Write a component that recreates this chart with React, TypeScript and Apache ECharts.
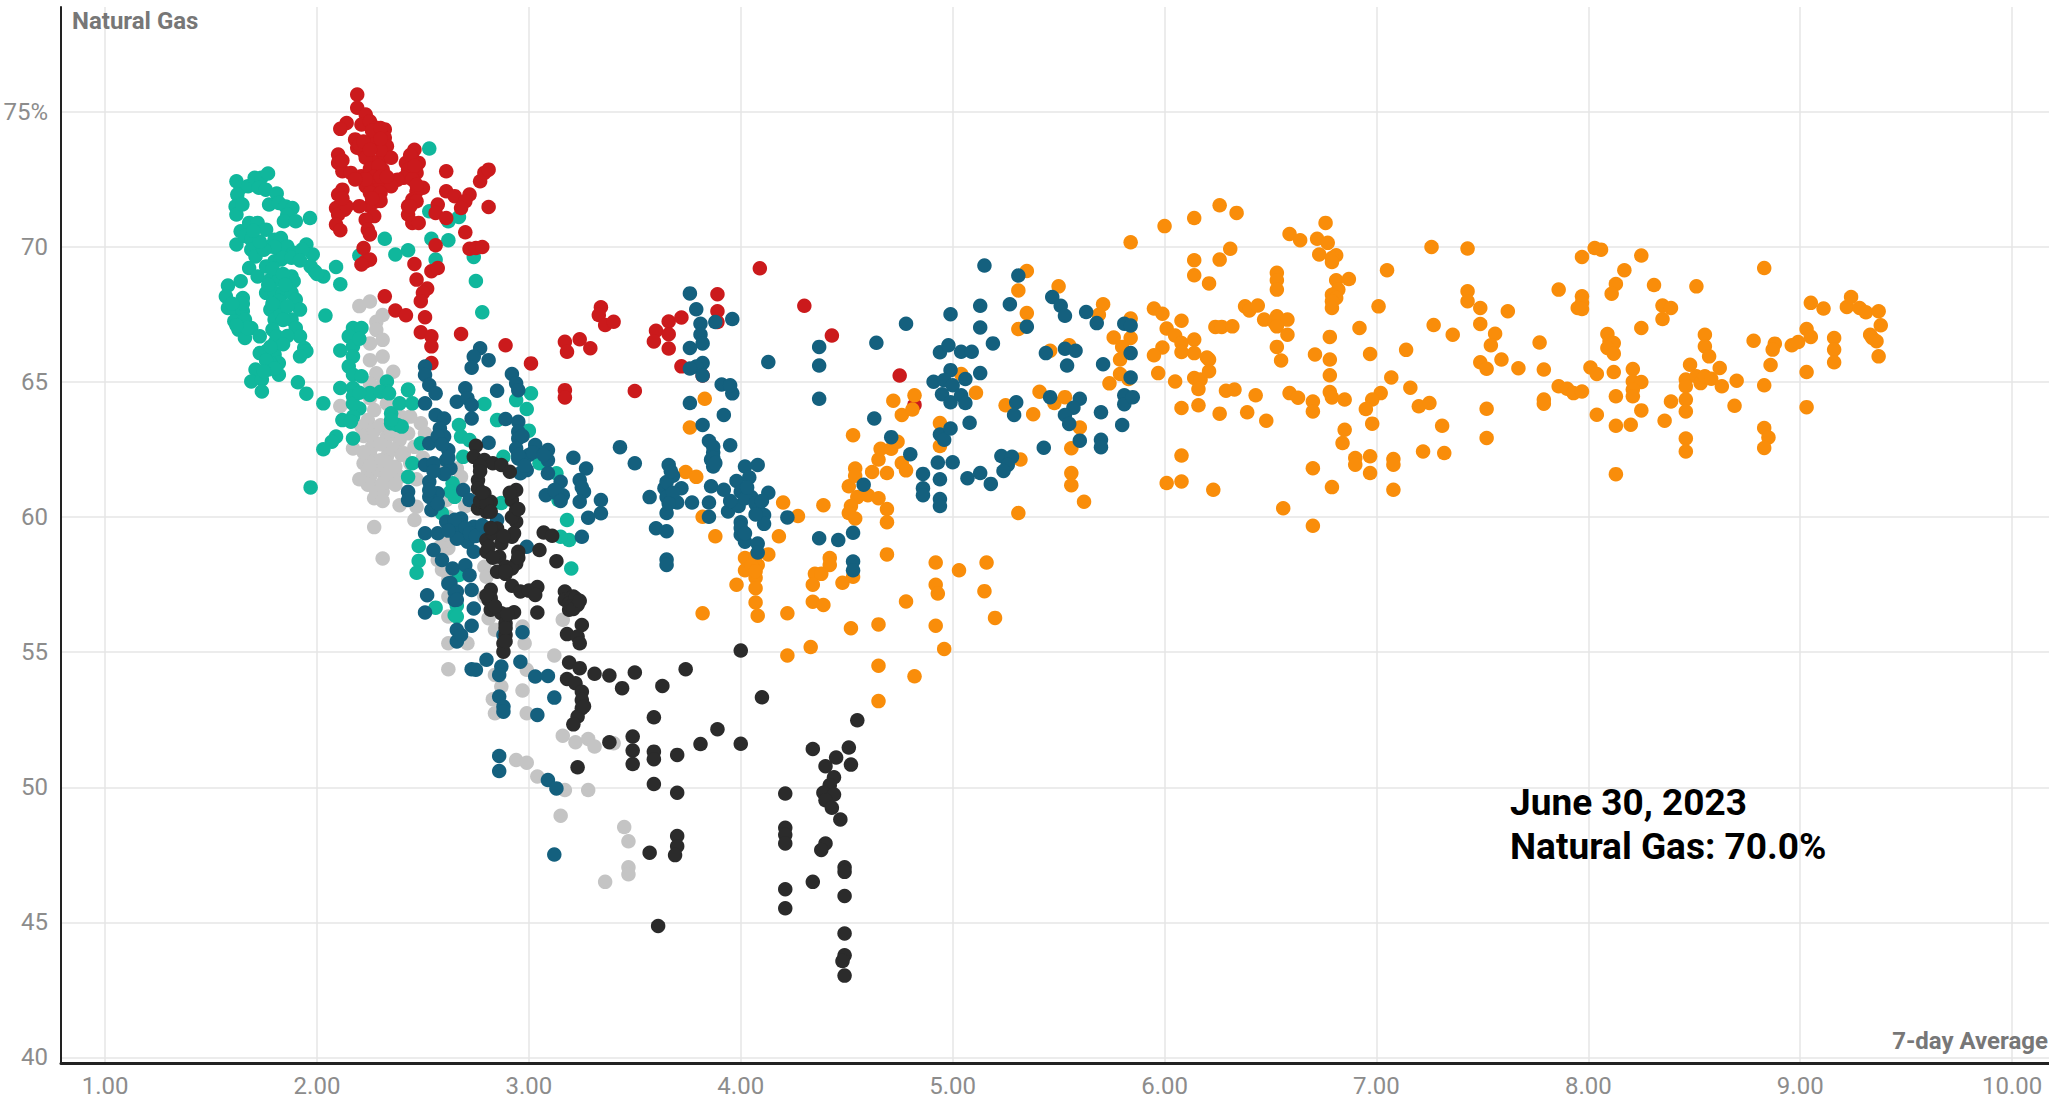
import React, { useEffect, useRef } from "react";
import * as echarts from "echarts";

const xTicks = [1, 2, 3, 4, 5, 6, 7, 8, 9, 10];
const yTicks = [40, 45, 50, 55, 60, 65, 70, 75];
const yAxisTitle = "Natural Gas";
const xAxisTitle = "7-day Average";
const noteLines = ["June 30, 2023", "Natural Gas: 70.0%"];

const greyPoints = [
[2.20,67.81],[2.25,67.98],[2.31,67.48],[2.28,67.23],[2.28,66.93],[2.31,66.56],[2.25,66.43],[2.25,65.81],[2.31,65.94],[2.36,65.38],[2.28,65.32],[2.30,64.83],[2.11,64.11],[2.25,64.95],[2.27,63.96],[2.24,63.59],[2.21,63.35],[2.17,62.54],[2.25,63.10],[2.28,62.73],[2.25,62.36],[2.28,61.99],[2.25,61.49],[2.29,61.74],[2.33,62.23],[2.35,61.86],[2.39,61.49],[2.39,62.85],[2.33,62.98],[2.43,63.10],[2.46,62.60],[2.41,62.36],[2.37,61.86],[2.28,60.88],[2.31,60.94],[2.39,60.44],[2.47,60.38],[2.46,59.89],[2.27,59.63],[2.31,58.47],[2.49,63.47],[2.51,63.10],[2.44,63.72],[2.61,60.63],[2.68,61.49],[2.57,60.38],[2.61,59.02],[2.57,58.41],[2.64,57.05],[2.79,58.16],[2.80,57.79],[2.33,62.60],[2.30,62.10],[2.22,61.99],[2.24,61.74],[2.32,61.49],[2.35,61.31],[2.27,61.12],[2.31,61.25],[2.62,58.85],[2.59,58.05],[2.62,57.06],[2.62,56.32],[2.62,55.33],[2.71,55.33],[2.62,54.37],[2.84,55.83],[2.81,56.26],[2.97,55.95],[2.98,55.33],[3.12,54.88],[2.99,54.35],[3.16,56.20],[2.84,54.16],[2.87,53.73],[2.97,53.58],[2.83,53.26],[2.84,52.74],[2.99,52.74],[3.16,51.91],[3.22,51.67],[3.28,51.79],[3.31,51.51],[2.94,51.01],[2.99,50.91],[3.04,50.40],[3.17,49.90],[3.28,49.90],[3.40,51.63],[2.79,57.06],[3.15,48.95],[3.45,48.53],[3.47,48.00],[3.47,47.04],[3.47,46.78],[3.36,46.50],
[2.22,63.0],[2.27,63.2],[2.30,63.4],[2.35,63.2],[2.40,63.7],[2.26,62.6],[2.22,62.4],[2.36,62.5],[2.30,62.7],[2.40,62.3],[2.44,62.0],[2.33,61.6],[2.37,61.2],[2.24,61.2],[2.27,60.7],[2.31,60.6],[2.33,64.2],[2.36,63.9],[2.25,64.4],[2.25,61.9],[2.20,61.4],[2.50,62.2],[2.47,61.4],[2.60,62.0],[2.66,61.8],[2.70,60.4],[2.62,60.0],[2.66,59.5],[2.62,57.7],[2.58,58.9],
];

const tealPoints = [
[1.62,72.43],[1.64,72.19],[1.675,72.25],[1.706,72.56],[1.737,72.56],[1.769,72.72],[1.726,72.19],[1.758,72.12],[1.81,71.98],[1.624,71.94],[1.64,71.6],[1.616,71.5],[1.62,71.2],[1.648,71.57],[1.774,71.57],[1.82,71.63],[1.852,71.5],[1.884,71.44],[1.86,71.2],[1.844,70.95],[1.90,70.95],[1.967,71.07],
[1.64,70.58],[1.68,70.89],[1.72,70.89],[1.76,70.64],[1.62,70.09],[1.66,70.40],[1.69,70.27],[1.69,69.90],[1.71,69.65],[1.80,70.27],[1.83,70.33],[1.78,70.02],[1.82,69.90],[1.86,70.02],[1.89,69.78],[1.95,70.09],[1.98,69.72],[1.97,69.28],[1.99,69.10],[2.03,68.91],[2.09,69.26],[2.11,68.62],[1.68,69.22],[1.64,68.73],[1.72,68.91],[1.76,69.28],[1.80,69.47],[1.83,69.53],[1.88,68.91],[1.89,68.73],[1.78,68.79],[1.82,68.79],[1.76,68.30],[1.80,68.30],[1.84,68.30],[1.88,68.30],[1.90,68.05],[1.92,67.68],[1.78,67.68],[1.80,67.31],[1.79,66.94],[1.83,67.56],[1.88,67.31],[1.90,67.00],[1.92,66.69],[1.58,68.57],[1.57,68.17],[1.58,67.74],[1.65,68.11],[1.61,67.68],[1.65,67.62],[1.61,67.25],[1.66,67.31],[1.63,66.94],[1.69,67.00],[1.73,66.69],[1.66,66.63],[1.80,66.44],[1.81,66.69],[1.94,66.26],[1.95,66.14],[1.92,65.95],[1.73,66.07],[1.76,66.14],[1.80,66.01],[1.82,65.70],[1.82,65.27],[1.71,65.46],[1.77,65.46],[1.69,65.02],[1.74,65.09],[1.74,64.65],[1.78,65.70],[2.04,67.46],[1.91,64.99],[1.95,64.57],
[2.53,73.64],[2.53,71.32],[2.62,70.95],[2.67,71.11],[2.54,70.30],[2.62,70.25],[2.32,70.30],[2.37,69.72],[2.43,69.88],[2.20,69.68],[2.56,69.53],[2.74,69.63],[2.75,68.74],[2.78,67.58],[2.17,67.00],[2.21,67.00],[2.15,66.69],[2.11,66.17],[2.17,66.32],[2.17,65.95],[2.15,65.58],[2.17,65.27],[2.21,65.21],[2.11,64.78],[2.17,64.78],[2.17,64.47],[2.25,64.59],[2.33,65.02],[2.33,64.65],[2.43,64.72],
[2.25,64.52],[2.30,64.64],[2.34,64.58],[2.20,64.02],[2.17,63.72],[2.12,63.59],[2.16,63.53],[2.09,62.98],[2.07,62.79],[2.17,62.91],[2.03,62.51],[2.03,64.21],[2.43,64.70],[2.35,63.84],[2.39,64.21],[2.45,64.21],[2.35,63.47],[2.38,63.41],[2.40,63.35],[2.67,63.41],[2.68,62.98],[2.72,62.85],[2.49,62.73],[2.69,62.23],[2.64,61.25],[2.63,60.94],[2.65,60.75],[2.45,61.99],[2.43,61.49],[3.01,64.58],[2.94,64.33],[2.99,64.00],[3.00,63.20],[2.79,64.19],[2.85,63.59],[3.05,61.99],[3.13,61.62],[3.14,60.63],[3.18,59.89],[3.19,59.15],[3.15,59.27],[3.20,58.10],[2.48,58.93],[2.48,58.38],[2.47,57.94],[2.56,56.65],[2.65,56.37],[2.59,60.14],[2.88,62.23],[2.66,56.72],[2.66,56.32],[2.67,57.86],[2.87,60.52],[1.97,61.1],
[1.80,70.0],[1.84,69.6],[1.79,69.2],[1.84,69.0],[1.77,68.6],[1.85,68.6],[1.82,68.0],[1.86,67.8],[1.79,67.9],[1.84,67.3],[1.86,66.7],[1.84,66.4],[1.78,66.3],[1.76,65.8],[1.80,65.5],[1.75,65.4],[1.67,67.0],[1.65,67.9],[1.88,69.6],[1.75,69.9],[1.73,70.2],[1.70,70.6],[1.93,69.9],[1.92,69.5],[2.0,69.0],[1.60,67.9],[1.62,67.1],[2.35,63.6],[2.20,66.6],[2.17,64.2],[2.20,64.6],
];

const redPoints = [
[2.19,75.64],[2.19,75.15],[2.23,74.90],[2.14,74.59],[2.11,74.37],[2.21,74.53],[2.25,74.65],[2.28,74.41],[2.32,74.35],[2.27,74.16],[2.32,74.04],[2.18,73.98],[2.19,73.67],[2.22,73.54],[2.33,73.73],[2.10,73.42],[2.10,73.11],[2.31,73.30],[2.35,73.30],[2.26,73.17],[2.46,73.60],[2.45,73.30],[2.48,73.11],[2.42,73.11],[2.43,72.86],[2.47,72.74],[2.41,72.56],[2.38,72.49],[2.12,72.80],[2.16,72.74],[2.21,72.62],[2.24,72.62],[2.28,72.74],[2.31,72.86],[2.26,72.37],[2.30,72.37],[2.35,72.25],[2.23,72.25],[2.25,72.00],[2.30,72.00],[2.28,71.69],[2.25,71.51],[2.20,71.51],[2.27,71.14],[2.23,71.01],[2.24,70.64],[2.25,70.46],[2.12,72.12],[2.10,71.94],[2.09,71.44],[2.13,71.38],[2.10,71.20],[2.09,70.83],[2.11,70.62],[2.50,72.19],[2.47,72.06],[2.45,71.75],[2.47,71.69],[2.43,71.51],[2.43,71.20],[2.45,70.89],[2.48,70.89],[2.57,71.57],[2.56,71.26],[2.61,71.07],[2.61,72.80],[2.61,72.06],[2.65,71.88],[2.72,71.94],[2.70,71.69],[2.68,71.44],[2.77,72.43],[2.79,72.74],[2.81,72.86],[2.81,71.48],[2.70,70.54],[2.72,69.93],[2.75,69.96],[2.78,70.00],[2.56,70.06],[2.22,69.96],[2.23,69.47],[2.25,69.53],[2.21,69.35],[2.46,69.37],[2.54,69.10],[2.57,69.22],[2.47,68.79],[2.52,68.46],[2.50,68.30],[2.49,67.99],[2.32,68.17],[2.37,67.65],[2.42,67.47],[2.51,67.40],[2.49,66.84],[2.54,66.69],[2.54,66.32],[2.68,66.78],[2.89,66.36],[2.54,65.70],
[3.01,65.69],[3.17,66.49],[3.18,66.12],[3.24,66.58],[3.29,66.25],[3.34,67.77],[3.33,67.48],[3.36,67.11],[3.40,67.23],[3.17,64.70],[3.17,64.43],[3.50,64.67],[3.60,66.9],[3.59,66.5],[3.66,67.24],[3.72,67.39],[3.66,66.77],[3.66,66.24],[3.72,65.58],[3.89,68.25],[3.89,67.62],[3.89,67.22],[4.09,69.21],[4.30,67.82],[4.43,66.72],[4.75,65.24],[4.82,64.15],[3.82,65.24],
[2.27,73.8],[2.30,73.6],[2.23,73.3],[2.25,72.9],[2.29,73.0],[2.27,72.6],[2.30,72.6],[2.33,72.6],[2.23,72.5],[2.30,71.7],[2.26,71.8],[2.18,72.5],[2.44,73.4],[2.46,73.0],[2.45,72.5],[2.47,72.3],[2.44,71.5],[2.12,73.2],[2.14,71.5],[2.12,71.8],[2.26,74.3],[2.30,74.4],[2.30,74.0],[2.20,73.8],[2.22,73.9],[2.25,73.6],
];

const orangePoints = [
[3.74,61.67],[3.79,61.49],[3.83,64.38],[3.76,63.32],[3.82,60.01],[3.88,59.29],[3.82,56.44],[4.20,60.54],[4.27,60.04],[4.18,59.29],[4.13,58.62],[4.02,58.49],[4.07,58.56],[4.02,58.03],[4.08,58.23],[4.07,57.76],[4.07,57.37],[3.98,57.50],[4.07,56.84],[4.08,56.35],[4.22,56.44],[4.22,54.88],[4.33,55.19],[4.39,60.44],[4.42,58.49],[4.42,58.23],[4.35,57.90],[4.38,57.90],[4.34,57.50],[4.48,57.57],[4.53,57.79],[4.34,56.87],[4.39,56.75],[4.52,55.89],[4.65,56.03],[4.78,56.88],[4.69,58.62],[4.92,58.32],[5.03,58.03],[5.16,58.32],[4.92,57.50],[4.93,57.17],[5.15,57.26],[5.20,56.27],[4.92,55.98],[4.96,55.12],[4.65,54.50],[4.82,54.11],[4.65,53.19],[4.53,63.03],[4.51,61.14],[4.54,61.80],[4.54,61.53],[4.62,61.67],[4.65,62.13],[4.66,62.53],[4.71,62.53],[4.74,62.79],[4.69,61.63],[4.76,62.00],[4.78,61.73],[4.55,60.74],[4.60,60.81],[4.65,60.70],[4.52,60.41],[4.51,60.15],[4.54,59.95],[4.69,60.30],[4.69,59.81],[4.72,64.31],[4.76,63.78],[4.82,64.51],[4.81,63.98],[4.94,63.48],[4.94,62.63],[5.04,65.30],[5.11,64.60],[5.25,64.14],[5.38,63.81],[5.41,64.64],[5.48,64.22],[5.53,64.44],[5.60,63.32],[5.56,62.55],[5.32,62.13],[5.56,61.63],[5.56,61.18],[5.62,60.57],[5.31,60.15],[5.35,69.11],[5.31,68.39],[5.35,67.55],[5.31,66.96],[5.50,68.54],[5.71,67.88],[5.69,67.49],[5.46,66.16],[5.55,66.36],[5.76,66.65],[5.84,67.35],[5.84,66.63],[5.80,66.30],[5.79,65.83],[5.79,65.30],[5.74,64.95],[5.83,65.11],[5.84,70.17],[4.05,58.2],[4.07,58.0],
[6.00,70.77],[6.14,71.07],[6.26,71.54],[6.34,71.26],[6.31,69.93],[6.26,69.53],[6.14,69.51],[6.14,68.95],[6.21,68.65],[6.59,70.48],[6.64,70.25],[6.76,70.89],[6.72,70.30],[6.77,70.15],[6.73,69.72],[6.81,69.69],[6.79,69.59],[6.79,69.44],[6.53,69.04],[6.53,68.77],[6.53,68.42],[6.81,68.77],[6.87,68.81],[6.82,68.42],[6.79,68.23],[6.81,68.11],[6.79,67.99],[6.79,67.74],[7.05,69.14],[7.26,70.00],[7.01,67.80],[6.92,67.00],[7.27,67.11],[7.36,66.75],[6.97,66.04],[7.14,66.19],[6.78,66.67],[6.71,66.02],[6.78,65.83],[6.78,65.25],[5.95,67.72],[5.99,67.53],[6.08,67.27],[6.01,66.98],[6.05,66.72],[6.08,66.44],[6.08,66.11],[6.14,66.57],[6.14,66.07],[5.99,66.28],[5.95,65.99],[5.97,65.33],[6.05,65.02],[6.14,65.15],[6.17,65.09],[6.16,64.74],[6.20,65.91],[6.21,65.83],[6.21,65.40],[6.08,64.04],[6.16,64.14],[6.26,63.83],[6.39,63.88],[6.48,63.57],[6.43,64.51],[6.29,64.68],[6.33,64.72],[6.59,64.59],[6.63,64.42],[6.70,64.28],[6.70,63.91],[6.78,64.63],[6.79,64.43],[6.85,64.35],[7.02,64.59],[6.98,64.35],[6.95,64.00],[7.07,65.17],[7.16,64.79],[7.20,64.10],[7.25,64.22],[7.31,63.38],[7.22,62.43],[7.32,62.37],[6.98,63.46],[6.85,63.23],[6.84,62.74],[6.90,62.19],[6.90,61.94],[6.97,62.25],[6.97,61.63],[7.08,62.15],[7.08,61.94],[7.08,61.01],[6.70,61.81],[6.79,61.11],[6.56,60.33],[6.70,59.68],[6.08,62.28],[6.01,61.26],[6.08,61.32],[6.23,61.01],[6.38,67.80],[6.40,67.65],[6.44,67.83],[6.47,67.31],[6.53,67.43],[6.52,67.19],[6.54,67.31],[6.58,67.31],[6.53,67.06],[6.58,66.75],[6.53,66.30],[6.55,65.80],[6.24,67.04],[6.27,67.04],[6.32,67.06],
[7.43,69.94],[7.43,68.36],[7.43,67.99],[7.49,67.74],[7.62,67.62],[7.49,67.15],[7.56,66.79],[7.54,66.36],[7.49,65.73],[7.52,65.49],[7.59,65.83],[7.67,65.51],[7.77,66.46],[7.79,65.46],[7.86,68.42],[7.97,68.17],[7.97,67.93],[7.95,67.74],[7.97,67.70],[7.97,69.63],[8.03,69.96],[8.06,69.90],[8.25,69.68],[8.17,69.14],[8.13,68.63],[8.11,68.27],[8.31,68.59],[8.51,68.54],[8.35,67.83],[8.39,67.74],[8.35,67.33],[8.25,67.00],[8.09,66.78],[8.10,66.51],[8.12,66.44],[8.09,66.26],[8.12,66.05],[8.01,65.54],[8.04,65.30],[8.12,65.37],[8.21,65.48],[8.21,65.02],[8.25,65.00],[8.21,64.72],[8.21,64.47],[8.13,64.47],[7.86,64.84],[7.90,64.75],[7.93,64.59],[7.97,64.65],[7.79,64.35],[7.79,64.20],[7.52,64.01],[7.52,62.93],[8.04,63.79],[8.13,63.38],[8.20,63.42],[8.25,63.95],[8.36,63.57],[8.39,64.28],[8.46,64.35],[8.46,63.91],[8.46,62.91],[8.46,62.43],[8.13,61.59],[8.55,66.75],[8.55,66.32],[8.57,65.95],[8.62,65.52],[8.48,65.64],[8.46,65.09],[8.46,64.84],[8.51,65.21],[8.53,64.96],[8.55,65.21],[8.58,65.12],[8.63,64.84],[8.70,65.05],[8.69,64.12],[8.78,66.53],[8.83,69.22],[8.88,66.42],[8.87,66.20],[8.86,65.63],[8.83,64.88],[8.83,63.30],[8.85,62.95],[8.83,62.56],[8.96,66.36],[8.99,66.48],[9.03,66.96],[9.05,66.67],[9.03,65.37],[9.03,64.07],[9.05,67.93],[9.11,67.72],[9.16,66.63],[9.16,66.20],[9.16,65.73],[9.22,67.78],[9.24,68.15],[9.28,67.74],[9.31,67.58],[9.37,67.62],[9.38,67.10],[9.33,66.75],[9.34,66.63],[9.36,66.51],[9.37,65.95],
];

const bluePoints = [
[2.77,66.25],[2.74,65.94],[2.81,65.81],[2.73,65.53],[2.51,65.57],[2.51,65.26],[2.53,64.89],[2.56,64.58],[2.51,64.21],[2.70,64.77],[2.66,64.27],[2.71,64.40],[2.73,64.15],[2.73,63.65],[2.85,64.68],[2.92,65.30],[2.94,64.95],[2.95,64.70],[2.89,63.63],[2.95,63.53],[2.95,63.16],[2.95,62.91],[2.94,62.54],[2.95,62.17],[2.99,61.74],[2.96,61.62],[3.03,62.67],[3.09,62.48],[3.00,62.30],[3.09,62.11],[3.09,61.62],[3.08,60.81],[3.15,61.31],[3.16,60.81],[3.13,60.88],[3.21,62.20],[3.27,61.80],[3.24,61.37],[3.26,60.94],[3.24,60.57],[3.34,60.63],[3.34,60.14],[3.28,59.98],[3.25,59.27],[3.43,62.59],[3.50,61.99],[2.56,63.78],[2.60,63.65],[2.58,63.28],[2.60,62.98],[2.53,62.73],[2.62,62.48],[2.61,62.11],[2.63,61.80],[2.51,61.93],[2.55,61.99],[2.53,61.31],[2.57,60.88],[2.53,60.75],[2.43,60.94],[2.43,60.63],[2.54,60.26],[2.81,62.75],[2.69,61.0],[2.72,60.63],[2.61,59.83],[2.68,59.95],[2.64,59.58],[2.68,59.27],[2.74,59.64],[2.77,59.52],[2.71,59.09],[2.74,58.72],[2.51,59.40],[2.57,59.40],[2.55,58.78],[2.59,58.41],[2.64,58.10],[2.70,58.22],[2.72,57.85],[2.62,57.54],[2.65,57.23],[2.65,56.93],[2.52,57.11],[2.51,56.47],[2.73,57.30],[2.74,56.62],[2.85,59.89],[2.99,58.90],[2.63,57.56],[2.66,57.25],[2.66,56.94],[2.73,55.98],[2.66,55.83],[2.66,55.40],[2.68,55.64],[2.73,54.37],[2.75,54.35],[2.80,54.72],[2.87,54.47],[2.86,54.16],[2.96,54.65],[2.88,55.64],[2.97,55.74],[3.03,54.10],[3.09,54.12],[3.12,53.32],[2.86,53.36],[2.88,52.99],[2.88,52.80],[3.04,52.68],[2.86,51.16],[2.86,50.60],[3.09,50.27],[3.13,49.96],[3.12,47.51],
[2.65,59.9],[2.70,59.6],[2.72,59.4],[2.75,59.3],[2.66,59.2],[2.78,59.7],[2.62,59.5],[2.57,63.0],[2.59,62.7],[2.62,62.2],[2.60,61.6],[2.55,61.7],[2.53,61.0],[2.57,60.5],[2.97,63.0],[2.95,62.3],[2.98,61.9],[3.02,62.4],[3.07,62.3],[3.12,61.0],[3.15,60.6],[3.25,61.1],
[3.76,68.28],[3.79,67.69],[3.81,67.16],[3.88,67.22],[3.96,67.33],[3.81,66.76],[3.82,66.43],[3.76,66.26],[3.82,65.70],[3.79,65.57],[3.76,65.50],[3.82,65.24],[3.91,64.91],[3.96,64.58],[3.95,64.88],[3.76,64.22],[3.92,63.78],[3.82,63.41],[3.85,62.82],[3.95,62.66],[3.87,62.39],[3.86,62.13],[3.87,61.87],[3.66,61.93],[3.68,61.53],[3.64,61.07],[3.72,61.07],[3.65,60.74],[3.70,60.54],[3.65,60.15],[3.57,60.74],[3.77,60.54],[3.86,61.14],[3.85,60.54],[3.85,60.01],[3.92,61.01],[3.94,60.21],[3.98,61.34],[4.02,61.87],[4.08,61.93],[4.04,61.47],[4.00,60.94],[4.05,60.74],[4.13,60.90],[3.99,60.41],[4.08,60.34],[4.11,60.08],[4.11,59.75],[4.00,59.81],[4.00,59.35],[4.02,59.09],[4.08,59.02],[4.08,58.69],[4.22,59.99],[3.60,59.59],[3.65,59.48],[3.65,58.43],[3.65,58.23],[4.37,59.22],[4.46,59.15],[4.53,59.42],[4.53,58.36],[4.53,58.03],[4.13,65.74],[4.37,66.30],[4.37,65.61],[4.37,64.38],[4.64,66.45],[4.78,67.16],[4.63,63.65],[4.71,62.96],[4.80,62.33],[4.58,61.20],[4.86,61.60],[4.86,61.07],[4.86,60.81],[4.94,61.40],[4.94,60.67],[4.94,60.41],[4.93,62.02],[5.00,62.03],[5.07,61.44],[5.13,61.63],[5.18,61.23],[4.94,63.06],[4.96,62.86],[4.99,63.28],[5.08,63.49],[4.99,67.51],[5.13,67.82],[5.13,67.02],[5.19,66.43],[5.15,69.31],[4.94,66.10],[4.98,66.36],[5.04,66.12],[5.09,66.12],[5.13,65.33],[4.99,65.44],[4.91,65.01],[4.96,65.07],[5.00,64.88],[5.06,65.11],[4.95,64.55],[4.99,64.25],[5.04,64.51],[5.06,64.22],[5.27,67.88],[5.31,68.94],[5.35,67.05],[5.47,68.15],[5.51,67.82],[5.53,67.45],[5.63,67.59],[5.68,67.18],[5.44,66.07],[5.53,66.23],[5.58,66.16],[5.54,65.61],[5.71,65.66],[5.81,67.16],[5.84,67.09],[5.84,66.07],[5.84,65.17],[5.81,64.51],[5.81,64.18],[5.85,64.44],[5.80,63.41],[5.70,63.88],[5.46,64.44],[5.60,64.38],[5.57,64.05],[5.53,63.78],[5.55,63.45],[5.60,62.83],[5.70,62.86],[5.70,62.59],[5.43,62.57],[5.30,64.25],[5.29,63.78],[5.23,62.26],[5.28,62.23],[5.26,61.93],[5.24,61.71],
[3.87,62.6],[3.87,62.2],[3.88,62.0],[3.65,61.3],[3.68,60.9],[3.66,60.5],[3.67,61.7],[3.95,60.6],[4.02,60.7],[4.07,60.5],[4.03,61.1],[4.07,60.1],[4.10,60.6],[4.00,59.6],[4.02,59.4],
];

const blackPoints = [
[2.75,62.64],[2.74,62.23],[2.79,62.11],[2.83,61.99],[2.87,61.93],[2.91,61.68],[2.76,61.37],[2.76,61.06],[2.79,60.88],[2.82,60.57],[2.76,60.32],[2.80,60.20],[2.94,61.0],[2.92,60.63],[2.94,60.26],[2.94,59.83],[2.85,59.58],[2.80,59.15],[2.80,58.72],[2.87,59.02],[2.92,59.27],[2.86,58.53],[2.95,58.72],[2.94,58.28],[2.89,58.16],[2.85,57.98],[3.07,59.43],[3.11,59.31],[3.05,58.78],[3.13,58.37],
[2.92,57.46],[2.96,57.25],[3.00,57.28],[3.04,57.41],[3.03,57.12],[2.82,57.31],[2.81,56.94],[2.82,56.57],[2.87,56.44],[2.93,56.48],[2.89,56.07],[2.89,55.64],[2.88,55.33],[2.88,55.02],[3.04,56.47],[3.17,57.25],[3.21,57.06],[3.17,56.94],[3.23,56.75],[3.19,56.57],[3.25,56.01],[3.18,55.67],[3.23,55.58],[3.24,55.33],[3.19,54.62],[3.24,54.41],[3.31,54.20],[3.38,54.14],[3.50,54.25],[3.74,54.37],[3.18,54.01],[3.22,53.85],[3.25,53.54],[3.25,53.23],[3.25,52.93],[3.23,52.62],[3.21,52.33],[3.44,53.67],[3.63,53.75],[3.59,52.59],[3.38,51.67],[3.49,51.88],[3.49,51.36],[3.49,50.86],[3.59,51.32],[3.59,51.04],[3.70,51.20],[3.81,51.60],[3.89,52.15],[3.23,50.74],[3.59,50.12],[3.70,49.80],
[4.00,55.06],[4.10,53.33],[4.00,51.61],[4.55,52.48],[4.34,51.42],[4.51,51.47],[4.45,51.10],[4.52,50.84],[4.40,50.78],[4.44,50.37],[4.42,50.08],[4.39,49.80],[4.44,49.73],[4.40,49.52],[4.43,49.24],[4.47,48.81],[4.21,49.77],[4.21,48.50],[4.21,48.24],[4.21,47.92],[4.40,47.92],[4.38,47.68],[3.70,48.20],[3.70,47.82],[3.69,47.49],[3.57,47.58],[4.49,47.04],[4.49,46.87],[4.49,45.98],[4.34,46.50],[4.21,46.23],[4.21,45.52],[3.61,44.87],[4.49,44.59],[4.49,43.78],[4.48,43.57],[4.49,43.03],
[3.20,57.0],[3.19,56.8],[3.22,57.0],[3.20,56.7],[2.77,61.9],[2.77,61.7],[2.77,60.6],[2.80,60.5],[2.78,60.9],[2.82,60.2],[2.92,60.0],[2.91,60.9],[2.83,59.4],[2.81,58.9],[2.83,58.5],[2.89,57.9],[2.92,58.1],[2.95,58.5],[2.93,59.4],[2.88,59.3],[2.82,59.6],[2.89,58.0],[3.21,56.6],[3.24,56.9],[3.26,53.0],[2.82,57.0],[2.84,56.7],[2.89,55.9],[2.89,55.4],[2.90,56.4],[2.80,57.1],[2.95,60.3],
];

const scatterSeries = [
  { name: "grey", data: greyPoints, color: "#c4c4c4" },
  { name: "teal", data: tealPoints, color: "#10b79c" },
  { name: "red", data: redPoints, color: "#cb1a1c" },
  { name: "orange", data: orangePoints, color: "#f98d0a" },
  { name: "blue", data: bluePoints, color: "#14607e" },
  { name: "black", data: blackPoints, color: "#2b2b2b" },
];

const FONT = "Roboto";

export default function App() {
  const ref = useRef<HTMLDivElement>(null);
  useEffect(() => {
    document.body.style.margin = "0";
    document.body.style.background = "#fff";
    const chart = echarts.init(ref.current!, undefined, { renderer: "svg" });
    chart.setOption({
      animation: false,
      backgroundColor: "#ffffff",
      grid: { left: 61, right: 0, top: 7, bottom: 40, containLabel: false },
      xAxis: {
        type: "value",
        min: 0.792,
        max: 10.174,
        axisLine: { show: true, onZero: false, lineStyle: { color: "#222222", width: 3 } },
        axisTick: { show: false, customValues: xTicks },
        axisLabel: {
          customValues: xTicks,
          formatter: (v: number) => v.toFixed(2),
          color: "#8c8c8c",
          fontFamily: FONT,
          fontSize: 24,
          margin: 11,
        },
        splitLine: { show: true, lineStyle: { color: "#e6e6e6", width: 1.5 } },
      },
      yAxis: {
        type: "value",
        min: 39.796,
        max: 78.88,
        axisLine: { show: true, onZero: false, lineStyle: { color: "#222222", width: 2 } },
        axisTick: { show: false, customValues: yTicks },
        axisLabel: {
          customValues: yTicks,
          formatter: (v: number) => (v === 75 ? "75%" : String(v)),
          color: "#8c8c8c",
          fontFamily: FONT,
          fontSize: 24,
          margin: 13,
        },
        splitLine: { show: true, lineStyle: { color: "#e6e6e6", width: 1.5 } },
      },
      series: scatterSeries.map((s) => ({
        type: "scatter",
        name: s.name,
        data: s.data,
        symbol: "circle",
        symbolSize: 14.5,
        silent: true,
        itemStyle: { color: s.color, opacity: 1 },
      })),
      graphic: [
        {
          type: "text",
          z: 10,
          x: 72,
          y: 21,
          style: { text: yAxisTitle, fill: "#777777", font: `bold 24px ${FONT}`, textAlign: "left", textVerticalAlign: "middle" },
        },
        {
          type: "text",
          z: 10,
          x: 2048,
          y: 1041,
          style: { text: xAxisTitle, fill: "#777777", font: `bold 24px ${FONT}`, textAlign: "right", textVerticalAlign: "middle" },
        },
        {
          type: "text",
          z: 10,
          x: 1510,
          y: 802,
          style: { text: noteLines[0], fill: "#000000", font: `bold 37px ${FONT}`, textAlign: "left", textVerticalAlign: "middle" },
        },
        {
          type: "text",
          z: 10,
          x: 1510,
          y: 846,
          style: { text: noteLines[1], fill: "#000000", font: `bold 37px ${FONT}`, textAlign: "left", textVerticalAlign: "middle" },
        },
      ],
    });
    return () => chart.dispose();
  }, []);
  return <div ref={ref} style={{ position: "absolute", left: 0, top: 0, width: 2049, height: 1103 }} />;
}
